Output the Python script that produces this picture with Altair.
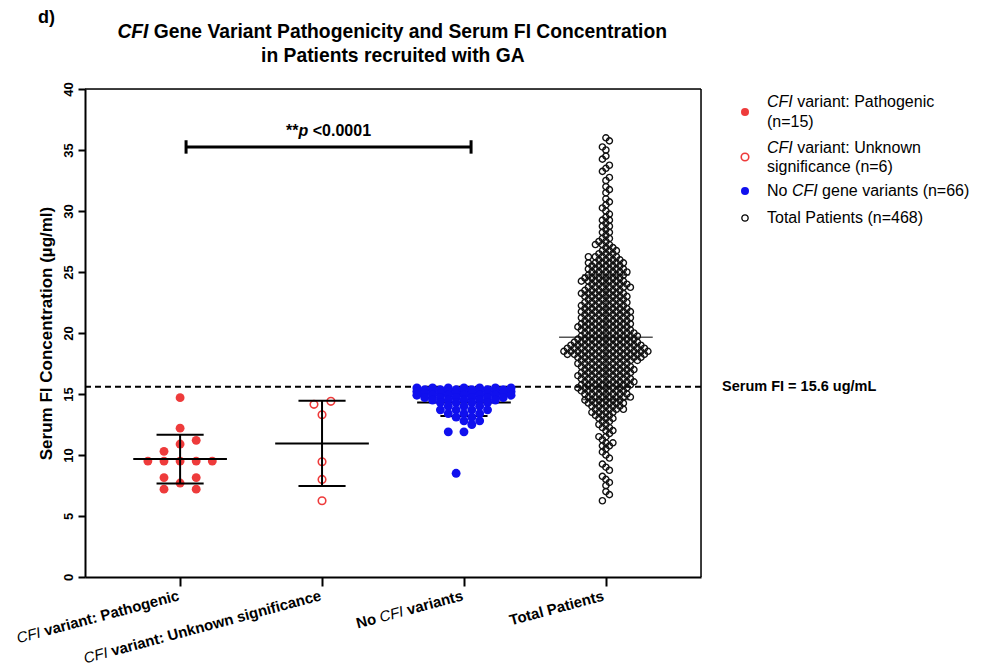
import re
import altair as alt
import pandas as pd

# ---------------- data ----------------
CATEGORIES = ["CFI variant: Pathogenic", "CFI variant: Unknown significance",
              "No CFI variants", "Total Patients"]
TITLE_LINES = ["CFI Gene Variant Pathogenicity and Serum FI Concentration",
               "in Patients recruited with GA"]
PANEL_TAG = "d)"
Y_TITLE = "Serum FI Concentration (µg/ml)"
Y_TICKS = [0, 5, 10, 15, 20, 25, 30, 35, 40]
LEGEND_LINES = [["CFI variant: Pathogenic", "(n=15)"],
                ["CFI variant: Unknown", "significance (n=6)"],
                ["No CFI gene variants (n=66)"],
                ["Total Patients (n=468)"]]
THRESHOLD = 15.6
THRESHOLD_LABEL = "Serum FI = 15.6 ug/mL"
SIG_LABEL = "**p <0.0001"
SIG_FROM, SIG_TO, SIG_LEVEL = 0.042, 2.05, 35.25

# pathogenic (filled red): value + horizontal swarm slot
PATH_VALUES = [14.7, 12.2, 10.9, 11.2, 10.3, 9.5, 9.5, 9.5, 9.5, 9.5, 8.15, 8.15, 7.7, 7.2, 7.2]
PATH_SLOTS = [0, 0, 0, 1, -1, -2, -1, 0, 1, 2, -1, 1, 0, -1, 1]
# unknown significance (open red)
UNK_VALUES = [14.15, 14.4, 13.3, 9.45, 8.0, 6.25]
UNK_SLOTS = [-0.5, 0.55, 0, 0, 0, 0]
# no CFI variants (filled blue): swarm rows (value, number of points)
NOCFI_ROW_VALUES = [15.5, 15.35, 15.2, 15.05, 14.9, 14.7, 14.5, 14.3, 14.0, 13.7, 13.4, 13.1, 12.8, 12.5, 11.9, 8.5]
NOCFI_ROW_COUNTS = [7, 6, 7, 6, 7, 6, 5, 4, 3, 4, 3, 2, 2, 1, 2, 1]
# total patients (open black): swarm rows (value, number of points)
TOTAL_ROW_VALUES = [36.0, 35.75, 35.5, 35.25, 35.0, 34.75, 34.5, 34.25, 34.0, 33.75,
                    33.5, 33.25, 33.0, 32.75, 32.5, 32.25, 32.0, 31.75, 31.5, 31.25,
                    31.0, 30.75, 30.5, 30.25, 30.0, 29.75, 29.5, 29.25, 29.0, 28.75,
                    28.5, 28.25, 28.0, 27.75, 27.5, 27.25, 27.0, 26.75, 26.5, 26.25,
                    26.0, 25.75, 25.5, 25.25, 25.0, 24.75, 24.5, 24.25, 24.0, 23.75,
                    23.5, 23.25, 23.0, 22.75, 22.5, 22.25, 22.0, 21.75, 21.5, 21.25,
                    21.0, 20.75, 20.5, 20.25, 20.0, 19.75, 19.5, 19.25, 19.0, 18.75,
                    18.5, 18.25, 18.0, 17.75, 17.5, 17.25, 17.0, 16.75, 16.5, 16.25,
                    16.0, 15.75, 15.5, 15.25, 15.0, 14.75, 14.5, 14.25, 14.0, 13.75,
                    13.5, 13.25, 13.0, 12.75, 12.5, 12.25, 12.0, 11.75, 11.5, 11.25,
                    11.0, 10.75, 10.5, 10.25, 10.0, 9.75, 9.5, 9.25, 9.0, 8.75,
                    8.5, 8.25, 8.0, 7.75, 7.5, 7.25, 7.0, 6.75, 6.5, 6.25]
TOTAL_ROW_COUNTS = [1, 1, 0, 1, 1, 0, 1, 1, 0, 1,
                    1, 1, 0, 1, 1, 0, 1, 1, 1, 0,
                    1, 1, 1, 1, 1, 1, 1, 2, 1, 2,
                    1, 2, 1, 2, 2, 3, 2, 3, 3, 5,
                    4, 6, 5, 6, 6, 6, 6, 7, 6, 7,
                    6, 7, 7, 6, 7, 7, 7, 8, 7, 8,
                    7, 8, 8, 8, 8, 9, 9, 10, 11, 12,
                    13, 12, 10, 9, 8, 8, 8, 8, 8, 8,
                    8, 8, 8, 7, 7, 7, 6, 6, 5, 5,
                    4, 3, 3, 2, 2, 2, 2, 1, 2, 1,
                    2, 2, 1, 1, 1, 1, 0, 1, 1, 1,
                    0, 1, 1, 1, 1, 0, 1, 1, 0, 1]
# mean +/- SD bars
GROUP_MEAN = [9.67, 10.95, 14.3, 19.65]
GROUP_SD = [2.0, 3.5, 1.1, 5.1]

# ---------------- layout / style ----------------
W, H = 616, 488
X_DOMAIN = [-0.67, 3.67]
Y_DOMAIN = [0, 40]
UNIT_PX = W / (X_DOMAIN[1] - X_DOMAIN[0])
RED = "#ee3b3b"
BLUE = "#1010ee"
FONT = "Liberation Sans"

x_scale = alt.Scale(domain=X_DOMAIN, nice=False, zero=False)
y_scale = alt.Scale(domain=Y_DOMAIN, nice=False, zero=False)
x_axis = alt.Axis(values=[0, 1, 2, 3], labels=False, title=None, grid=False,
                  tickSize=9, tickWidth=2, tickColor="black",
                  domainWidth=2, domainColor="black")
y_axis = alt.Axis(values=Y_TICKS, title=Y_TITLE, grid=False,
                  labelAngle=270, labelAlign="center", labelBaseline="bottom",
                  labelFontSize=13, labelFontWeight="bold", labelColor="black",
                  labelPadding=3, tickSize=7, tickWidth=2, tickColor="black",
                  domainWidth=2, domainColor="black",
                  titleFontSize=17, titleFontWeight="bold", titleColor="black",
                  titlePadding=7)


def X(field="x"):
    return alt.X(f"{field}:Q", scale=x_scale, axis=x_axis)


def Y(field="y"):
    return alt.Y(f"{field}:Q", scale=y_scale, axis=y_axis)


# Arial / Liberation Sans advance widths (1/1000 em)
REG, BOLD = {}, {}
for chars, w in [("ijl", 222), (" ftI.:/", 278), ("r()-", 333), ("*", 389),
                 ("cksvxyzJ", 500), ("abdeghnopqu0123456789µL", 556), ("=<>+", 584),
                 ("FTZ", 611), ("ABEKPSVXY", 667), ("CDHNRUw", 722), ("GOQ", 778),
                 ("mM", 833), ("W", 944)]:
    for c in chars:
        REG[c] = w
for chars, w in [(" ijlI./", 278), ("ft:()-", 333), ("r*", 389), ("z", 500),
                 ("acekvsxyJ0123456789", 556), ("=<>+", 584), ("bdghnopquFTZLµ", 611),
                 ("EPSVXY", 667), ("ABCDHKNRU", 722), ("GOQw", 778), ("M", 833),
                 ("m", 889), ("W", 944)]:
    for c in chars:
        BOLD[c] = w


def tw(s, bold, size):
    t = BOLD if bold else REG
    return sum(t.get(c, 556) for c in s) * size / 1000.0


def text_run(text, size, weight, x, y, token=None, token_weight=None, anchor="left",
             angle=0, baseline="middle", data=None, color="black"):
    parts = [p for p in (re.split("(" + re.escape(token) + ")", text) if token else [text]) if p]
    specs = []
    for p in parts:
        it = token is not None and p == token
        wgt = (token_weight or weight) if it else weight
        specs.append((p, it, wgt, tw(p, wgt == "bold", size)))
    total = sum(s[3] for s in specs)
    off = {"left": 0.0, "center": -total / 2.0, "right": -total}[anchor]
    src = data if data is not None else pd.DataFrame({"d": [0]})
    out = []
    for p, it, wgt, wd in specs:
        lead = len(p) - len(p.lstrip(" "))
        shown = p.strip(" ")
        if shown:
            kw = dict(align="left", baseline=baseline,
                      dx=off + tw(" " * lead, wgt == "bold", size),
                      fontSize=size, fontStyle="italic" if it else "normal",
                      fontWeight=wgt, color=color, text=shown)
            if angle:
                kw["angle"] = angle
            out.append(alt.Chart(src).mark_text(**kw).encode(x=x, y=y))
        off += wd
    return out


def slot_points(values, slots, cat, slot_px):
    return pd.DataFrame({"x": [cat + s * slot_px / UNIT_PX for s in slots], "y": values})


def row_points(row_vals, row_counts, cat, slot_px):
    """Swarm layout: each row sits on a lattice that alternates by half a slot."""
    xs, ys = [], []
    for i, (v, c) in enumerate(zip(row_vals, row_counts)):
        target = 0.5 * (i % 2)
        for k in range(c):
            s = k - (c - 1) / 2.0
            if abs((s % 1.0) - target) > 1e-6:
                s += 0.5 if (i // 2) % 2 == 0 else -0.5
            xs.append(cat + s * slot_px / UNIT_PX)
            ys.append(v)
    return pd.DataFrame({"x": xs, "y": ys})


def errbar_df(idx, mean_half=0.33, cap_half=0.166):
    m, s = GROUP_MEAN[idx], GROUP_SD[idx]
    return pd.DataFrame({
        "x": [idx - mean_half, idx - cap_half, idx - cap_half, idx],
        "x2": [idx + mean_half, idx + cap_half, idx + cap_half, idx],
        "y": [m, m + s, m - s, m - s],
        "y2": [m, m + s, m - s, m + s]})


def errbar(idx, color, width):
    return alt.Chart(errbar_df(idx)).mark_rule(color=color, strokeWidth=width).encode(
        x=X("x"), x2="x2:Q", y=Y("y"), y2="y2:Q")


layers = []

# plot frame (top and right edges)
layers.append(alt.Chart(pd.DataFrame({"y": [Y_DOMAIN[1]]})).mark_rule(
    color="black", strokeWidth=1.5).encode(y=Y()))
layers.append(alt.Chart(pd.DataFrame({"x": [X_DOMAIN[1]]})).mark_rule(
    color="black", strokeWidth=1.5).encode(x=X()))

# threshold dashed line
layers.append(alt.Chart(pd.DataFrame({"y": [THRESHOLD]})).mark_rule(
    color="black", strokeWidth=2, strokeDash=[6, 4]).encode(y=Y()))

# error bars under the dense swarms
layers.append(errbar(2, "black", 2))
layers.append(errbar(3, "#555555", 1.6))

# points
layers.append(alt.Chart(row_points(TOTAL_ROW_VALUES, TOTAL_ROW_COUNTS, 3, 7.0)).mark_point(
    shape="circle", filled=False, size=38, strokeWidth=1.4, color="#111111", opacity=1).encode(x=X(), y=Y()))
layers.append(alt.Chart(row_points(NOCFI_ROW_VALUES, NOCFI_ROW_COUNTS, 2, 15.7)).mark_circle(
    size=79, color=BLUE, opacity=1).encode(x=X(), y=Y()))
layers.append(alt.Chart(slot_points(PATH_VALUES, PATH_SLOTS, 0, 16.1)).mark_circle(
    size=79, color=RED, opacity=1).encode(x=X(), y=Y()))
layers.append(alt.Chart(slot_points(UNK_VALUES, UNK_SLOTS, 1, 16.1)).mark_point(
    shape="circle", filled=False, size=57, strokeWidth=1.6, color=RED, opacity=1).encode(x=X(), y=Y()))

# error bars over the red groups
layers.append(errbar(0, "black", 2))
layers.append(errbar(1, "black", 2))

# significance bar
sig = pd.DataFrame({"x": [SIG_FROM, SIG_FROM, SIG_TO], "x2": [SIG_TO, SIG_FROM, SIG_TO],
                    "y": [SIG_LEVEL, SIG_LEVEL - 0.55, SIG_LEVEL - 0.55],
                    "y2": [SIG_LEVEL, SIG_LEVEL + 0.55, SIG_LEVEL + 0.55]})
layers.append(alt.Chart(sig).mark_rule(color="black", strokeWidth=3).encode(
    x=X("x"), x2="x2:Q", y=Y("y"), y2="y2:Q"))
layers += text_run(SIG_LABEL, 16, "bold", X(), Y(), token="p", token_weight="bold",
                   anchor="center",
                   data=pd.DataFrame({"x": [(SIG_FROM + SIG_TO) / 2], "y": [SIG_LEVEL + 1.3]}))

# threshold label
layers += text_run(THRESHOLD_LABEL, 14.5, "bold", alt.value(W + 21), Y(),
                   data=pd.DataFrame({"y": [THRESHOLD]}))

# category labels (rotated, CFI in italics)
for i, cat in enumerate(CATEGORIES):
    layers += text_run(cat, 15, "bold", X(), alt.value(H + 23), token="CFI",
                       token_weight="normal", anchor="right", angle=345,
                       baseline="alphabetic", data=pd.DataFrame({"x": [i]}))

# title lines and panel tag
layers += text_run(TITLE_LINES[0], 19.3, "bold", alt.value(W / 2), alt.value(-57),
                   token="CFI", token_weight="bold", anchor="center")
layers += text_run(TITLE_LINES[1], 19.3, "bold", alt.value(W / 2), alt.value(-33),
                   anchor="center")
layers += text_run(PANEL_TAG, 18, "bold", alt.value(-47), alt.value(-71))

# legend
LEG_SYM_Y = [23, 68, 102, 129]
LEG_TEXT_Y = [[13, 33], [59, 78], [102], [129]]
leg_x_sym = W + 44
leg_x_txt = W + 66
layers.append(alt.Chart(pd.DataFrame({"d": [0]})).mark_circle(size=64, color=RED, opacity=1).encode(
    x=alt.value(leg_x_sym), y=alt.value(LEG_SYM_Y[0])))
layers.append(alt.Chart(pd.DataFrame({"d": [0]})).mark_point(
    shape="circle", filled=False, size=57, strokeWidth=1.6, color=RED, opacity=1).encode(
    x=alt.value(leg_x_sym), y=alt.value(LEG_SYM_Y[1])))
layers.append(alt.Chart(pd.DataFrame({"d": [0]})).mark_circle(size=64, color=BLUE, opacity=1).encode(
    x=alt.value(leg_x_sym), y=alt.value(LEG_SYM_Y[2])))
layers.append(alt.Chart(pd.DataFrame({"d": [0]})).mark_point(
    shape="circle", filled=False, size=40, strokeWidth=1.3, color="black", opacity=1).encode(
    x=alt.value(leg_x_sym), y=alt.value(LEG_SYM_Y[3])))
for lines, ys in zip(LEGEND_LINES, LEG_TEXT_Y):
    for line, yy in zip(lines, ys):
        layers += text_run(line, 16, "normal", alt.value(leg_x_txt), alt.value(yy),
                           token="CFI", token_weight="normal")

chart = alt.layer(*layers).properties(
    width=W, height=H,
    autosize=alt.AutoSizeParams(type="none"),
    padding={"left": 77, "top": 81, "right": 286, "bottom": 92},
    background="white",
).configure_view(stroke="black", strokeWidth=1.5).configure(font=FONT)

chart.save("out.html", embed_options={"renderer": "svg", "actions": False})
